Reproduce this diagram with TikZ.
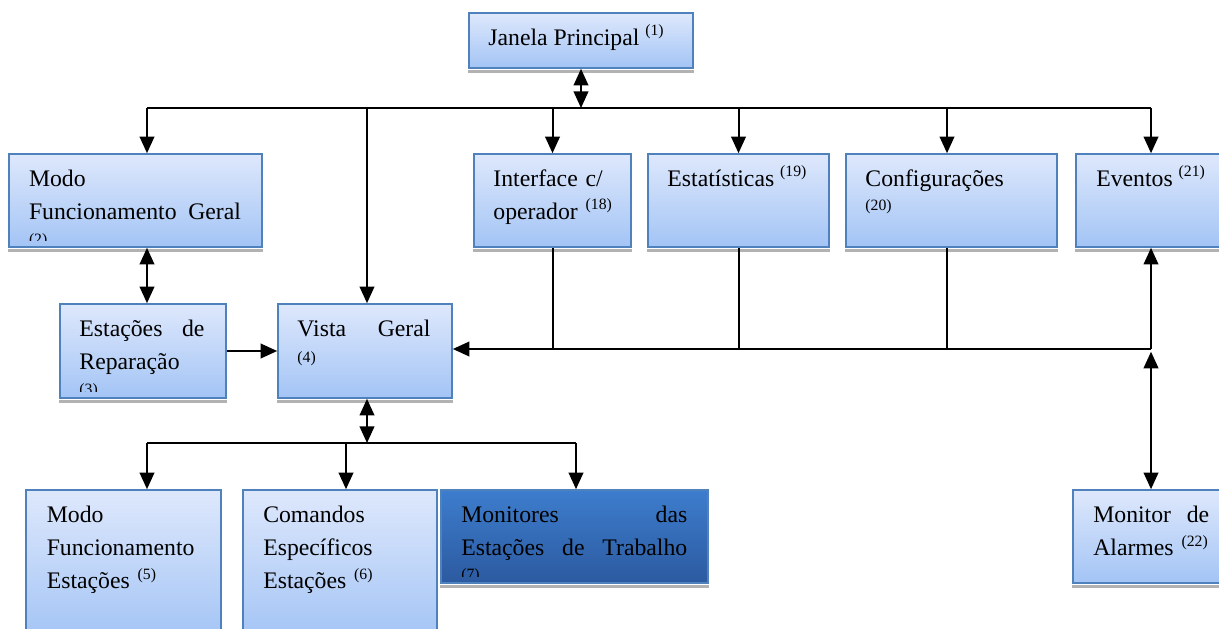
\documentclass[tikz,border=0pt]{standalone}
\usepackage{fontspec}
\setmainfont{Liberation Serif}
\usetikzlibrary{arrows.meta}
\definecolor{boxline}{RGB}{79,129,189}
\definecolor{boxtop}{RGB}{222,232,252}
\definecolor{boxbot}{RGB}{163,196,245}
\definecolor{darktop}{RGB}{61,125,205}
\definecolor{darkbot}{RGB}{44,90,160}
\newcommand{\mainsz}{\fontsize{17.8pt}{24.75pt}\selectfont}
\newcommand{\refsz}{\fontsize{11.8pt}{14pt}\selectfont}
\newcommand{\refsup}[1]{\raisebox{7pt}{\refsz (#1)}}
\tikzset{
  box/.style={rectangle,draw=boxline,line width=1.2pt,top color=boxtop,bottom color=boxbot,minimum height=69.75pt},
  darkbox/.style={box,top color=darktop,bottom color=darkbot},
  txt/.style={anchor=base west,inner sep=0pt,font=\mainsz,align=left},
  shadowln/.style={draw=gray!60,line width=2.25pt},
  conn/.style={line width=1.5pt},
  arr/.style={conn,-{Triangle[length=12.5pt,width=11pt]}},
  dbl/.style={conn,{Triangle[length=12.5pt,width=11pt]}-{Triangle[length=12.5pt,width=11pt]}}
}
\begin{document}
\begin{tikzpicture}[x=0.75pt,y=-0.75pt]
    \useasboundingbox (0,0) rectangle (1219,628);
    % Top level
    \node[box,minimum width=168pt,minimum height=41.25pt] (jan) at (581,40.5) {};
    % Level 2
    \node[box,minimum width=189.75pt] (mgeral) at (135.5,200.5) {};
    \node[box,minimum width=117.75pt] (iface) at (552.5,200.5) {};
    \node[box,minimum width=135.75pt] (estat) at (738.5,200.5) {};
    \node[box,minimum width=158.25pt] (config) at (951.5,200.5) {};
    \node[box,minimum width=117pt] (event) at (1154,200.5) {};
    % Level 3
    \node[box,minimum width=124.5pt,minimum height=70.5pt] (repar) at (143,351) {};
    \node[box,minimum width=130.5pt,minimum height=70.5pt] (vista) at (365,351) {};
    % Bottom level
    \node[box,minimum width=146.25pt,minimum height=112.5pt] (mestac) at (123.5,565) {};
    \node[box,minimum width=145.5pt,minimum height=112.5pt] (cmd) at (340,565) {};
    \node[darkbox,minimum width=200.25pt] (monit) at (574.5,536.5) {};
    \node[box,minimum width=119.25pt] (alarm) at (1152.5,536.5) {};
    % Shadows
    \foreach \b in {jan,mgeral,iface,estat,config,event,repar,vista,monit,alarm}
        \draw[shadowln] ([yshift=-2pt]\b.south west) -- ([yshift=-2pt]\b.south east);
    % Texts
    \node[txt] (janT) at ([xshift=15pt,yshift=-24.75pt]jan.north west) {Janela Principal \refsup{1}};
    \begin{scope}
        \clip ([yshift=5.25pt]mgeral.south west) rectangle (mgeral.north east);
        \node[txt,text width=159pt] (mgeralT) at ([xshift=15.4pt,yshift=-25.1pt]mgeral.north west)
            {Modo\\Funcionamento\hfill Geral\\[-6.5pt]{\refsz (2)}};
    \end{scope}
    \node[txt,text width=90pt] (ifaceT) at ([xshift=15pt,yshift=-24.75pt]iface.north west) {Interface c/\\operador \refsup{18}};
    \node[txt] (estatT) at ([xshift=15pt,yshift=-24.75pt]estat.north west) {Estatísticas \refsup{19}};
    \node[txt,text width=140pt] (configT) at ([xshift=15pt,yshift=-24.75pt]config.north west) {Configurações\\[-6.5pt]{\refsz (20)}};
    \node[txt] (eventT) at ([xshift=15.6pt,yshift=-24.75pt]event.north west) {Eventos \refsup{21}};
    \begin{scope}
        \clip ([yshift=5.25pt]repar.south west) rectangle (repar.north east);
        \node[txt,text width=93.75pt] (reparT) at ([xshift=15pt,yshift=-25.1pt]repar.north west)
            {Estações\hfill de\\Reparação\\[-6.5pt]{\refsz (3)}};
    \end{scope}
    \node[txt,text width=99.75pt] (vistaT) at ([xshift=15pt,yshift=-25.1pt]vista.north west) {Vista\hfill Geral\\[-5.75pt]{\refsz (4)}};
    \node[txt,text width=115pt] (mestacT) at ([xshift=16pt,yshift=-25pt]mestac.north west) {Modo\\Funcionamento\\Estações \refsup{5}};
    \node[txt,text width=115pt] (cmdT) at ([xshift=15.6pt,yshift=-25pt]cmd.north west) {Comandos\\Específicos\\Estações \refsup{6}};
    \begin{scope}
        \clip ([yshift=5.25pt]monit.south west) rectangle (monit.north east);
        \node[txt,text width=169.5pt] (monitT) at ([xshift=15.6pt,yshift=-25pt]monit.north west)
            {Monitores\hfill das\\Estações\hfill de\hfill Trabalho\\[-6.5pt]{\refsz (7)}};
    \end{scope}
    \node[txt,text width=87pt] (alarmT) at ([xshift=15.6pt,yshift=-25pt]alarm.north west) {Monitor\hfill de\\Alarmes \refsup{22}};
    % Top bus
    \coordinate (tbL) at (147,108);
    \coordinate (tbR) at (1151,108);
    \coordinate (t2) at (367,108);
    \coordinate (t5) at (947,108);
    \draw[conn] (tbL) -- (tbR);
    \draw[dbl] (jan.south) -- (jan.south |- tbL);
    \draw[arr] (tbL) -- (tbL |- mgeral.north);
    \draw[arr] (t2) -- (t2 |- vista.north);
    \draw[arr] (iface.north |- tbL) -- (iface.north);
    \draw[arr] (estat.north |- tbL) -- (estat.north);
    \draw[arr] (t5) -- (t5 |- config.north);
    \draw[arr] (tbR) -- (tbR |- event.north);
    % Left side
    \draw[dbl] (mgeral.south -| tbL) -- (repar.north -| tbL);
    \draw[arr] (repar.east) -- (vista.west);
    % Right bus
    \coordinate (rb) at (1151,349);
    \coordinate (r5) at (947,349);
    \draw[arr] (rb) -- (vista.east |- rb);
    \draw[conn] (iface.south) -- (iface.south |- rb);
    \draw[conn] (estat.south) -- (estat.south |- rb);
    \draw[conn] (r5 |- config.south) -- (r5);
    \draw[arr] (rb) -- (rb |- event.south);
    \draw[dbl] ([yshift=-2pt]rb) -- (rb |- alarm.north);
    % Bottom bus
    \coordinate (vb) at (367,443);
    \coordinate (bL) at (147,443);
    \coordinate (bM) at (346,443);
    \coordinate (bR) at (576,443);
    \draw[conn] (bL) -- (bR);
    \draw[dbl] (vista.south -| vb) -- (vb);
    \draw[arr] (bL) -- (bL |- mestac.north);
    \draw[arr] (bM) -- (bM |- cmd.north);
    \draw[arr] (bR) -- (bR |- monit.north);
\end{tikzpicture}
\end{document}
